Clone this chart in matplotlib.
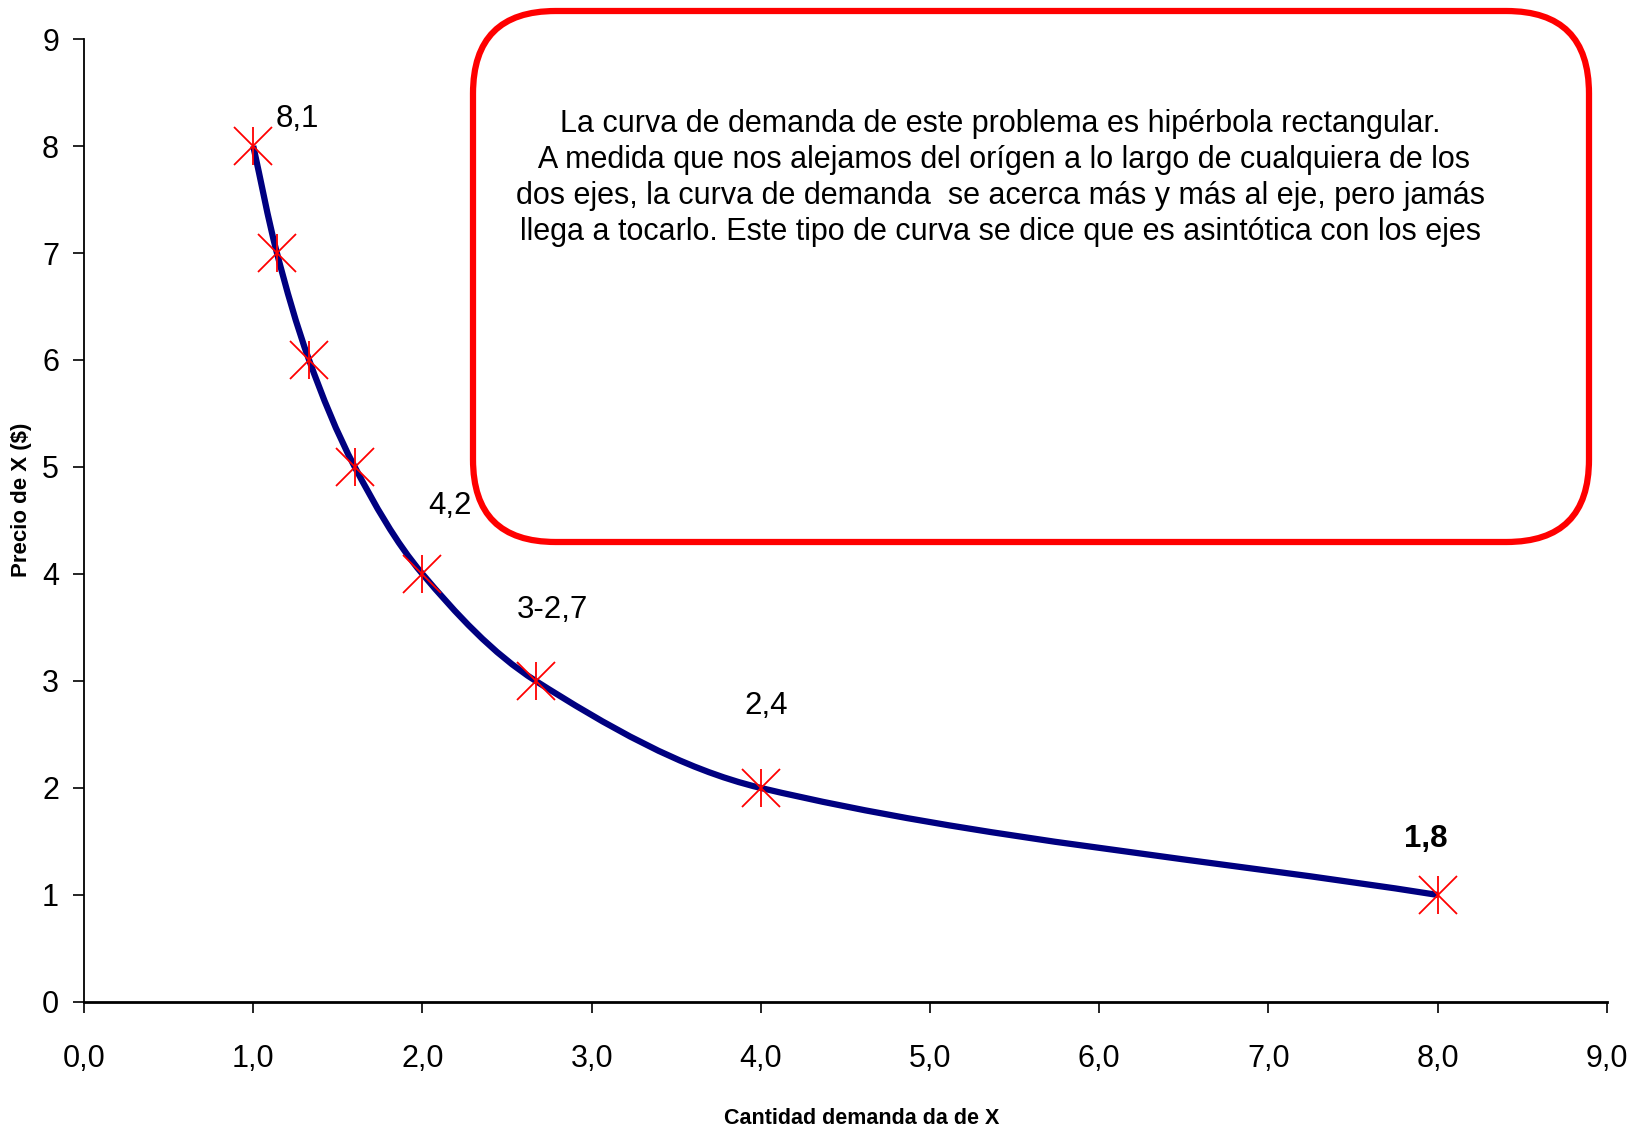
import matplotlib
matplotlib.use("Agg")
import matplotlib.pyplot as plt
from matplotlib.path import Path
from matplotlib.patches import PathPatch, FancyBboxPatch

plt.rcParams['font.family'] = ['Liberation Sans', 'DejaVu Sans']

# demand schedule
cantidad = [1.0, 1.14, 1.33, 1.6, 2.0, 2.67, 4.0, 8.0]
precio = [8, 7, 6, 5, 4, 3, 2, 1]

# point labels (text, x, y, bold)
etiquetas = ["8,1", "4,2", "3-2,7", "2,4", "1,8"]
etiq_x = [1.26, 2.16, 2.77, 4.03, 7.93]
etiq_y = [8.25, 4.64, 3.66, 2.77, 1.52]
etiq_bold = [False, False, False, False, True]

x_ticks = list(range(10))
x_tick_labels = [f"{v},0" for v in x_ticks]
y_ticks = list(range(10))

nota = ("La curva de demanda de este problema es hipérbola rectangular.\n"
        " A medida que nos alejamos del orígen a lo largo de cualquiera de los\n"
        "dos ejes, la curva de demanda  se acerca más y más al eje, pero jamás\n"
        "llega a tocarlo. Este tipo de curva se dice que es asintótica con los ejes")


def smooth_path(ax, xs, ys):
    # bezier through the points (chord-length weighted tangents), like Excel's smoothed line
    sx = ax.bbox.width / (ax.get_xlim()[1] - ax.get_xlim()[0])
    sy = ax.bbox.height / (ax.get_ylim()[1] - ax.get_ylim()[0])
    pts = list(zip(xs, ys))
    n = len(pts)

    def dist(a, b):
        return (((a[0] - b[0]) * sx) ** 2 + ((a[1] - b[1]) * sy) ** 2) ** 0.5

    tang = []
    for i in range(n):
        a = pts[max(i - 1, 0)]
        b = pts[min(i + 1, n - 1)]
        d = dist(a, pts[i]) + dist(pts[i], b)
        tang.append(((b[0] - a[0]) / d, (b[1] - a[1]) / d))

    verts = [pts[0]]
    codes = [Path.MOVETO]
    for i in range(n - 1):
        p1, p2 = pts[i], pts[i + 1]
        d = dist(p1, p2) / 3
        c1 = (p1[0] + tang[i][0] * d, p1[1] + tang[i][1] * d)
        c2 = (p2[0] - tang[i + 1][0] * d, p2[1] - tang[i + 1][1] * d)
        verts += [c1, c2, p2]
        codes += [Path.CURVE4] * 3
    return Path(verts, codes)


fig = plt.figure(figsize=(16.51, 11.31), dpi=100)
ax = fig.add_axes([0.0509, 0.1141, 0.9224, 0.8514])
ax.set_xlim(0, 9)
ax.set_ylim(0, 9)

ax.add_patch(PathPatch(smooth_path(ax, cantidad, precio), facecolor='none',
                       edgecolor='#000080', lw=4.5, zorder=3))
ax.plot(cantidad, precio, linestyle='none', marker='x', ms=27, mew=1.3,
        color='#ff0000', zorder=4)
ax.plot(cantidad, precio, linestyle='none', marker='|', ms=27, mew=1.3,
        color='#ff0000', zorder=4)

for t, x, y, b in zip(etiquetas, etiq_x, etiq_y, etiq_bold):
    ax.text(x, y, t, ha='center', va='center', fontsize=22.5,
            fontweight='bold' if b else 'normal')

ax.set_xticks(x_ticks)
ax.set_xticklabels(x_tick_labels)
ax.set_yticks(y_ticks)
ax.tick_params(axis='x', length=8, width=1.2, pad=22, labelsize=22, direction='out')
ax.tick_params(axis='y', length=8, width=1.2, pad=10, labelsize=22, direction='out')
for s in ['top', 'right']:
    ax.spines[s].set_visible(False)
ax.spines['left'].set_linewidth(1.3)
ax.spines['bottom'].set_linewidth(2.0)

fig.text(0.522, 1 - 1119 / 1131, "Cantidad demanda da de X", ha='center', va='center',
         fontsize=15.5, fontweight='bold')
fig.text(21 / 1651, 1 - 500 / 1131, "Precio de X ($)", ha='center', va='center',
         fontsize=16, fontweight='bold', rotation=90)

# red rounded note box
box = FancyBboxPatch((473 / 1651, 1 - 542 / 1131), (1589 - 473) / 1651, (542 - 11) / 1131,
                     boxstyle="round,pad=0,rounding_size=0.05", transform=fig.transFigure,
                     facecolor='none', edgecolor='#ff0000', lw=4.5, zorder=5,
                     mutation_aspect=1651 / 1131)
fig.patches.append(box)
fig.text(1000 / 1651, 1 - 178 / 1131, nota, ha='center', va='center', fontsize=22,
         linespacing=1.27)

fig.savefig("out.png", dpi=100)
